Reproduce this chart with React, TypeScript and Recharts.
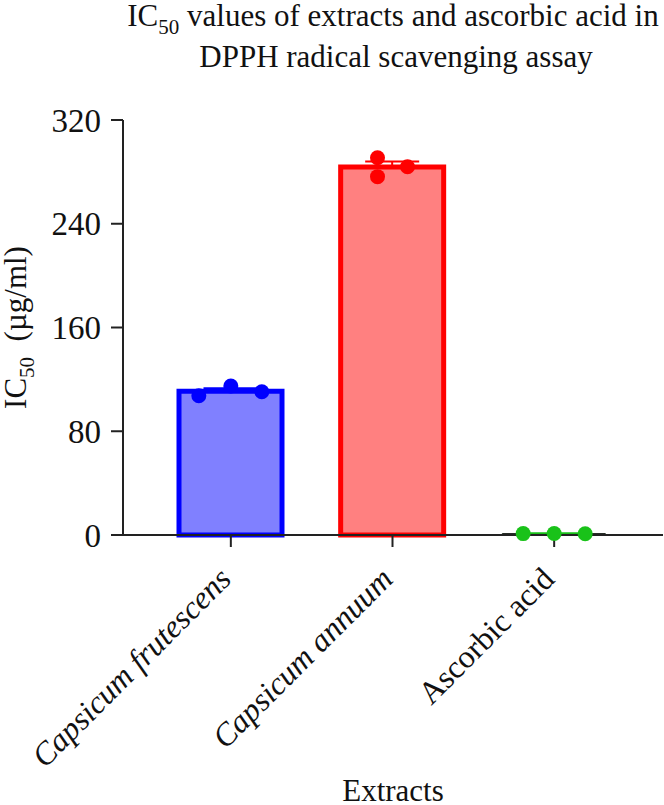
import React from 'react';
import { ComposedChart, Bar, Scatter, XAxis, YAxis, ErrorBar } from 'recharts';

// Extracts on the category axis
const categories = ['Capsicum frutescens', 'Capsicum annuum', 'Ascorbic acid'];

// Replicate IC50 values (µg/ml) for each extract
const frutescensReplicates = [107.4, 114.9, 110.5];
const annuumReplicates = [290.9, 276.3, 284.0];
const ascorbicReplicates = [1.1, 1.2, 1.0];

const yTicks = [0, 80, 160, 240, 320];

const FONT = "'Liberation Serif', 'Times New Roman', Times, serif";

const fills = ['#8080ff', '#ff8080', '#19c219'];
const strokes = ['#0000ff', '#ff0000', '#19c219'];
const seriesKeys = ['cf', 'ca', 'aa'];

// horizontal spread of the replicate dots around each bar centre
const dotSpread = [
  [-32, 0, 31],
  [-15, -15, 15],
  [-31, 0, 31],
];

const mean = (v: number[]) => v.reduce((a, b) => a + b, 0) / v.length;
const sem = (v: number[]) => {
  const m = mean(v);
  const sd = Math.sqrt(v.reduce((a, b) => a + (b - m) * (b - m), 0) / (v.length - 1));
  return sd / Math.sqrt(v.length);
};

const replicateSets = [frutescensReplicates, annuumReplicates, ascorbicReplicates];

const data = categories.map((name, i) => {
  const reps = replicateSets[i];
  const row: any = { name, idx: i, r1: reps[0], r2: reps[1], r3: reps[2] };
  seriesKeys.forEach((k, j) => {
    row[k] = j === i ? mean(reps) : 0;
    if (j === i) row[k + 'Err'] = [0, sem(reps)];
  });
  return row;
});

const makeDot = (rep: number) => (props: any) => {
  const { cx, cy, payload } = props;
  if (cx == null || cy == null) return <g />;
  const i = payload.idx;
  return <circle cx={cx + dotSpread[i][rep]} cy={cy} r={7.5} fill={strokes[i]} />;
};

const CategoryTick = (props: any) => {
  const { x, y, payload } = props;
  const italic = payload.value !== 'Ascorbic acid';
  return (
    <g transform={`translate(${x + 2},${y + 32})`}>
      <text
        x={0}
        y={0}
        textAnchor="end"
        transform="rotate(-45)"
        fontFamily={FONT}
        fontSize={32}
        fontStyle={italic ? 'italic' : 'normal'}
        fill="#111"
        style={{ fontFamily: FONT, fontStyle: italic ? 'italic' : 'normal' }}
      >
        {payload.value}
      </text>
    </g>
  );
};

const YLabel = (props: any) => {
  const vb = props.viewBox || { x: 0, y: 120, width: 123, height: 415 };
  const cx = vb.x + 26;
  const cy = vb.y + vb.height / 2;
  return (
    <text
      x={cx}
      y={cy}
      transform={`rotate(-90, ${cx}, ${cy})`}
      textAnchor="middle"
      fontFamily={FONT}
      fontSize={31}
      fill="#111"
      style={{ fontFamily: FONT }}
    >
      IC
      <tspan fontSize={21} dy={8}>50</tspan>
      <tspan dy={-8}>{'\u00a0\u00a0(µg/ml)'}</tspan>
    </text>
  );
};

const XLabel = (props: any) => {
  const vb = props.viewBox || { x: 122, y: 535, width: 541, height: 270 };
  return (
    <text
      x={vb.x + vb.width / 2}
      y={vb.y + 266}
      textAnchor="middle"
      fontFamily={FONT}
      fontSize={31}
      fill="#111"
      style={{ fontFamily: FONT }}
    >
      Extracts
    </text>
  );
};

export default function App() {
  return (
    <div style={{ position: 'absolute', left: 0, top: 0, width: 664, height: 805, background: '#fff' }}>
      <ComposedChart
        width={664}
        height={805}
        data={data}
        margin={{ top: 120, right: 1, bottom: 0, left: 0 }}
      >
        <XAxis
          dataKey="name"
          height={270}
          padding={{ left: 27, right: 28 }}
          axisLine={{ stroke: '#222', strokeWidth: 2 }}
          tickLine={{ stroke: '#222', strokeWidth: 2 }}
          tickSize={12}
          tick={<CategoryTick />}
          interval={0}
          label={<XLabel />}
        />
        <YAxis
          width={123}
          domain={[0, 320]}
          ticks={yTicks}
          axisLine={{ stroke: '#222', strokeWidth: 2 }}
          tickLine={{ stroke: '#222', strokeWidth: 2 }}
          tickSize={12}
          tickMargin={10}
          tick={{ fontFamily: FONT, fontSize: 33, fill: '#111' }}
          label={<YLabel />}
        />
        {seriesKeys.map((k, i) => (
          <Bar
            key={k}
            dataKey={k}
            stackId="s"
            barSize={103}
            fill={fills[i]}
            stroke={i === 2 ? '#222' : strokes[i]}
            strokeWidth={i === 2 ? 1 : 5}
            isAnimationActive={false}
          >
            <ErrorBar dataKey={k + 'Err'} width={27} stroke={strokes[i]} strokeWidth={2} direction="y" />
          </Bar>
        ))}
        <Scatter dataKey="r1" shape={makeDot(0)} isAnimationActive={false} />
        <Scatter dataKey="r2" shape={makeDot(1)} isAnimationActive={false} />
        <Scatter dataKey="r3" shape={makeDot(2)} isAnimationActive={false} />
      </ComposedChart>
      <svg
        width={664}
        height={90}
        style={{ position: 'absolute', left: 0, top: 0, pointerEvents: 'none' }}
      >
        <text x={393} y={26} textAnchor="middle" fontFamily={FONT} fontSize={31} fill="#111">
          IC
          <tspan fontSize={21} dy={8}>50</tspan>
          <tspan dy={-8}> values of extracts and ascorbic acid in</tspan>
        </text>
        <text x={396} y={67} textAnchor="middle" fontFamily={FONT} fontSize={31} fill="#111">
          DPPH radical scavenging assay
        </text>
      </svg>
    </div>
  );
}
